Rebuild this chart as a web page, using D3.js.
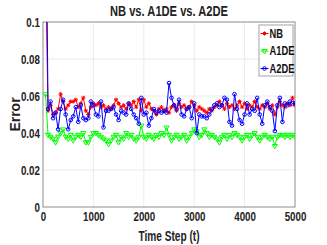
<!DOCTYPE html>
<meta charset="utf-8">
<style>
body { margin: 0; background: #fff; }
svg { display: block; }
.tick text { font-family: "Liberation Sans", sans-serif; font-size: 12.5px; font-weight: bold; fill: #222; }
.grid line { stroke: #e6e6e6; stroke-width: 0.8px; }
.frame { fill: none; stroke: #8c8c8c; stroke-width: 1px; }
.line { fill: none; stroke-width: 1px; }
</style>
<div id="chart"></div>
<script src="https://d3js.org/d3.v7.min.js"></script>
<script>
// time steps 50..5000, one value every 50 steps
var steps = d3.range(50, 5001, 50);

var nb = [
  0.13, 0.052, 0.055, 0.050, 0.051, 0.053, 0.061, 0.057, 0.053, 0.055,
  0.057, 0.057, 0.058, 0.054, 0.056, 0.059, 0.052, 0.050, 0.054, 0.056,
  0.055, 0.056, 0.054, 0.055, 0.053, 0.054, 0.053, 0.055, 0.058, 0.056,
  0.054, 0.055, 0.053, 0.056, 0.055, 0.057, 0.054, 0.058, 0.052, 0.058,
  0.054, 0.056, 0.053, 0.052, 0.050, 0.053, 0.054, 0.052, 0.053, 0.051,
  0.054, 0.055, 0.052, 0.056, 0.054, 0.055, 0.053, 0.054, 0.057, 0.055,
  0.052, 0.054, 0.053, 0.052, 0.051, 0.053, 0.052, 0.054, 0.055, 0.057,
  0.055, 0.053, 0.056, 0.054, 0.055, 0.053, 0.055, 0.057, 0.054, 0.056,
  0.053, 0.055, 0.054, 0.057, 0.054, 0.053, 0.055, 0.054, 0.056, 0.053,
  0.055, 0.050, 0.054, 0.057, 0.055, 0.054, 0.056, 0.055, 0.059, 0.055
];
var a1de = [
  0.061, 0.039, 0.038, 0.037, 0.035, 0.038, 0.040, 0.042, 0.038, 0.037,
  0.039, 0.036, 0.038, 0.039, 0.038, 0.040, 0.035, 0.035, 0.038, 0.040,
  0.040, 0.039, 0.038, 0.037, 0.036, 0.034, 0.036, 0.038, 0.039, 0.035,
  0.038, 0.037, 0.040, 0.038, 0.039, 0.037, 0.036, 0.038, 0.044, 0.038,
  0.037, 0.039, 0.038, 0.037, 0.039, 0.038, 0.040, 0.039, 0.043, 0.039,
  0.036, 0.038, 0.039, 0.037, 0.038, 0.039, 0.036, 0.038, 0.040, 0.042,
  0.041, 0.038, 0.039, 0.042, 0.040, 0.038, 0.039, 0.038, 0.037, 0.035,
  0.038, 0.039, 0.037, 0.039, 0.038, 0.040, 0.039, 0.038, 0.036, 0.038,
  0.039, 0.037, 0.039, 0.040, 0.038, 0.036, 0.038, 0.039, 0.038, 0.037,
  0.038, 0.033, 0.038, 0.039, 0.039, 0.038, 0.039, 0.038, 0.039, 0.038
];
var a2de = [
  0.2, 0.053, 0.057, 0.048, 0.051, 0.042, 0.053, 0.058, 0.050, 0.042,
  0.047, 0.049, 0.054, 0.046, 0.055, 0.048, 0.047, 0.048, 0.057, 0.055,
  0.050, 0.049, 0.057, 0.043, 0.052, 0.052, 0.053, 0.054, 0.050, 0.047,
  0.052, 0.051, 0.050, 0.056, 0.053, 0.050, 0.048, 0.045, 0.059, 0.050,
  0.051, 0.044, 0.048, 0.053, 0.051, 0.052, 0.051, 0.052, 0.051, 0.067,
  0.059, 0.055, 0.053, 0.058, 0.050, 0.049, 0.053, 0.054, 0.048, 0.056,
  0.040, 0.050, 0.049, 0.049, 0.048, 0.050, 0.053, 0.055, 0.056, 0.054,
  0.055, 0.059, 0.058, 0.046, 0.044, 0.061, 0.053, 0.047, 0.045, 0.050,
  0.056, 0.050, 0.053, 0.052, 0.059, 0.050, 0.045, 0.055, 0.057, 0.054,
  0.052, 0.041, 0.055, 0.059, 0.046, 0.056, 0.055, 0.057, 0.056, 0.056
];
var seriesNames = ["NB", "A1DE", "A2DE"];
var seriesColors = ["#ff0000", "#00ff00", "#0000ff"];
var xTicks = [0, 1000, 2000, 3000, 4000, 5000];
var yTicks = [0, 0.02, 0.04, 0.06, 0.08, 0.1];

var W = 327, H = 245;
var squeeze = "scale(0.78,1)"; // the reference text is horizontally condensed
var margin = {top: 22, right: 32, bottom: 38, left: 43},
    width = W - margin.left - margin.right,
    height = H - margin.top - margin.bottom;

var x = d3.scaleLinear().domain([0, 5000]).range([0, width]);
var y = d3.scaleLinear().domain([0, 0.1]).range([height, 0]);

var svg = d3.select("#chart").append("svg")
    .attr("width", W).attr("height", H)
  .append("g")
    .attr("transform", "translate(" + margin.left + "," + margin.top + ")");

svg.append("defs").append("clipPath").attr("id", "clip")
  .append("rect").attr("width", width).attr("height", height);

// grid
svg.append("g").attr("class", "grid")
  .selectAll("line").data(xTicks.slice(1, -1)).enter().append("line")
    .attr("x1", x).attr("x2", x).attr("y1", 0).attr("y2", height);
svg.append("g").attr("class", "grid")
  .selectAll("line").data(yTicks.slice(1, -1)).enter().append("line")
    .attr("y1", y).attr("y2", y).attr("x1", 0).attr("x2", width);

// axes
svg.append("g")
    .attr("transform", "translate(0," + height + ")")
    .call(d3.axisBottom(x).tickValues(xTicks).tickSize(0).tickPadding(5).tickFormat(d3.format("d")));
svg.append("g")
    .call(d3.axisLeft(y).tickValues(yTicks).tickSize(0).tickPadding(4)
      .tickFormat(function(d) { return d === 0 ? "0" : String(+d.toFixed(2)); }));
svg.selectAll(".domain").remove();
svg.selectAll(".tick text").attr("transform", squeeze);

svg.append("rect").attr("class", "frame").attr("width", width).attr("height", height);

// series
var allData = [nb, a1de, a2de];
var line = d3.line()
    .x(function(d, i) { return x(steps[i]); })
    .y(function(d) { return y(d); });

var plot = svg.append("g").attr("clip-path", "url(#clip)");

function marker(g, k, color) {
  if (k === 0) {
    var s = 2.1;
    g.append("path")
      .attr("d", "M" + (-s) + ",0H" + s + "M0," + (-s) + "V" + s +
                 "M" + (-s * 0.7) + "," + (-s * 0.7) + "L" + (s * 0.7) + "," + (s * 0.7) +
                 "M" + (-s * 0.7) + "," + (s * 0.7) + "L" + (s * 0.7) + "," + (-s * 0.7))
      .attr("stroke", color).attr("stroke-width", 1).attr("fill", "none");
  } else if (k === 1) {
    g.append("path")
      .attr("d", d3.symbol(d3.symbolTriangle, 11)())
      .attr("transform", "rotate(180)")
      .attr("stroke", color).attr("stroke-width", 1).attr("fill", "none");
  } else {
    g.append("circle").attr("r", 1.8)
      .attr("stroke", color).attr("stroke-width", 1).attr("fill", "none");
  }
}

allData.forEach(function(vals, k) {
  plot.append("path").datum(vals)
    .attr("class", "line")
    .attr("stroke", seriesColors[k])
    .attr("d", line);
  vals.forEach(function(v, i) {
    var g = plot.append("g").attr("transform", "translate(" + x(steps[i]) + "," + y(v) + ")");
    marker(g, k, seriesColors[k]);
  });
});

// title and labels
svg.append("text")
  .attr("x", width / 2).attr("y", -6)
  .attr("text-anchor", "middle")
  .attr("textLength", 118).attr("lengthAdjust", "spacingAndGlyphs")
  .style("font-family", "'Liberation Sans', sans-serif")
  .style("font-weight", "bold").style("font-size", "14.5px").style("fill", "#222")
  .text("NB vs. A1DE vs. A2DE");
svg.append("text")
  .attr("x", width / 2).attr("y", height + 34)
  .attr("text-anchor", "middle")
  .attr("textLength", 61).attr("lengthAdjust", "spacingAndGlyphs")
  .style("font-family", "'Liberation Sans', sans-serif")
  .style("font-weight", "bold").style("font-size", "14px").style("fill", "#222")
  .text("Time Step (t)");
svg.append("text")
  .attr("transform", "translate(" + (-23) + "," + (height / 2) + ")rotate(-90)")
  .attr("text-anchor", "middle")
  .style("font-family", "'Liberation Sans', sans-serif")
  .style("font-weight", "bold").style("font-size", "14px").style("fill", "#222")
  .text("Error");

// legend
var lg = svg.append("g").attr("transform", "translate(" + (width - 36) + ",3)");
lg.append("rect").attr("width", 34).attr("height", 51)
  .attr("fill", "#fff").attr("stroke", "#8c8c8c").attr("stroke-width", 0.8);
seriesNames.forEach(function(n, k) {
  var row = lg.append("g").attr("transform", "translate(0," + (8.5 + k * 17.5) + ")");
  row.append("line").attr("x1", 1.5).attr("x2", 9.5)
    .attr("stroke", seriesColors[k]).attr("stroke-width", 1);
  marker(row.append("g").attr("transform", "translate(5.5,0)"), k, seriesColors[k]);
  row.append("text").attr("x", 10.5 / 0.78).attr("dy", "0.36em")
    .attr("transform", squeeze)
    .style("font-family", "'Liberation Sans', sans-serif")
    .style("font-weight", "bold").style("font-size", "12px").style("fill", "#111")
    .text(n);
});
</script>
